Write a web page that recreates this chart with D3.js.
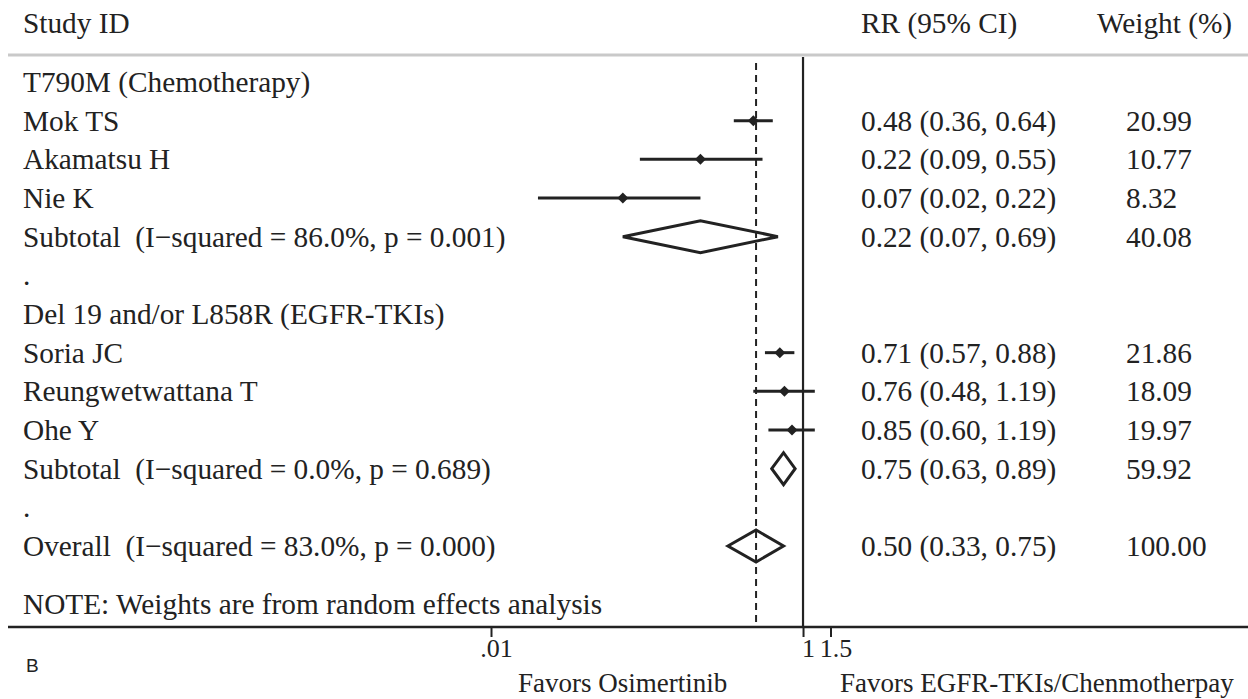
<!DOCTYPE html>
<html>
<head>
<meta charset="utf-8">
<script src="https://cdn.jsdelivr.net/npm/d3@7"></script>
<style>
  body { margin: 0; background: #fff; }
  svg text { font-family: "Liberation Serif", "Times New Roman", serif; fill: #222; white-space: pre; }
</style>
</head>
<body>
<svg id="chart"></svg>
<script>
// rows of the forest plot, top to bottom
const rowLabels = [
  "T790M (Chemotherapy)",
  "Mok TS",
  "Akamatsu H",
  "Nie K",
  "Subtotal  (I\u2212squared = 86.0%, p = 0.001)",
  ".",
  "Del 19 and/or L858R (EGFR-TKIs)",
  "Soria JC",
  "Reungwetwattana T",
  "Ohe Y",
  "Subtotal  (I\u2212squared = 0.0%, p = 0.689)",
  ".",
  "Overall  (I\u2212squared = 83.0%, p = 0.000)"
];
const rowType = ["head", "study", "study", "study", "pooled", "blank",
  "head", "study", "study", "study", "pooled", "blank", "pooled"];
const rr = [null, 0.48, 0.22, 0.07, 0.22, null, null, 0.71, 0.76, 0.85, 0.75, null, 0.50];
const lower = [null, 0.36, 0.09, 0.02, 0.07, null, null, 0.57, 0.48, 0.60, 0.63, null, 0.33];
const upper = [null, 0.64, 0.55, 0.22, 0.69, null, null, 0.88, 1.19, 1.19, 0.89, null, 0.75];
const weights = [null, 20.99, 10.77, 8.32, 40.08, null, null, 21.86, 18.09, 19.97, 59.92, null, 100.00];

const tickValues = [0.01, 1, 1.5];
const tickLabels = [".01", "1", "1.5"];
const overallRR = 0.50;
const nullValue = 1;

const width = 1248;
const height = 699;
const fs = 29.3;

const svg = d3.select("#chart").attr("width", width).attr("height", height);

const x = d3.scaleLog().domain([0.01, 1.5]).range([491, 830.5]);
// row index -> centre line of the row
const y = d3.scaleLinear().domain([0, 12]).range([82, 546]);
const noteRow = 13.5;
const axisY = 627;
const f2 = d3.format(".2f");

const rows = rowLabels.map((label, i) => ({
  i, label, type: rowType[i], rr: rr[i], lo: lower[i], hi: upper[i], w: weights[i]
}));

// header
svg.append("text").attr("x", 23).attr("y", 33).attr("font-size", fs).text("Study ID");
svg.append("text").attr("x", 861).attr("y", 33).attr("font-size", fs).text("RR (95% CI)");
svg.append("text").attr("x", 1097).attr("y", 33).attr("font-size", fs).text("Weight (%)");
svg.append("line")
  .attr("x1", 8).attr("x2", width).attr("y1", 55).attr("y2", 55)
  .attr("stroke", "#c9c9c9").attr("stroke-width", 3);

// reference lines
svg.append("line")
  .attr("x1", x(nullValue)).attr("x2", x(nullValue))
  .attr("y1", 57).attr("y2", axisY)
  .attr("stroke", "#222").attr("stroke-width", 2.2);

// row labels
svg.selectAll(".rowLabel")
  .data(rows)
  .enter()
  .append("text")
  .attr("class", "rowLabel")
  .attr("x", 23)
  .attr("y", (d) => y(d.i) + 10)
  .attr("font-size", fs)
  .text((d) => d.label);

const withCI = rows.filter((d) => d.rr != null);

// estimate text and weights
svg.selectAll(".rrText")
  .data(withCI)
  .enter()
  .append("text")
  .attr("class", "rrText")
  .attr("x", 861)
  .attr("y", (d) => y(d.i) + 10)
  .attr("font-size", fs)
  .text((d) => `${f2(d.rr)} (${f2(d.lo)}, ${f2(d.hi)})`);

svg.selectAll(".wText")
  .data(withCI)
  .enter()
  .append("text")
  .attr("class", "wText")
  .attr("x", 1126)
  .attr("y", (d) => y(d.i) + 10)
  .attr("font-size", fs)
  .text((d) => f2(d.w));

// study CIs and point estimates
const studyRows = withCI.filter((d) => d.type == "study");
svg.selectAll(".ci")
  .data(studyRows)
  .enter()
  .append("line")
  .attr("class", "ci")
  .attr("x1", (d) => x(d.lo))
  .attr("x2", (d) => x(d.hi))
  .attr("y1", (d) => y(d.i))
  .attr("y2", (d) => y(d.i))
  .attr("stroke", "#222")
  .attr("stroke-width", 3);

svg.selectAll(".pt")
  .data(studyRows)
  .enter()
  .append("path")
  .attr("class", "pt")
  .attr("d", (d) => {
    let cx = x(d.rr), cy = y(d.i), r = 5.5;
    return `M${cx},${cy - r}L${cx + r},${cy}L${cx},${cy + r}L${cx - r},${cy}Z`;
  })
  .attr("fill", "#222");

// pooled diamonds
svg.selectAll(".pooled")
  .data(withCI.filter((d) => d.type == "pooled"))
  .enter()
  .append("path")
  .attr("class", "pooled")
  .attr("d", (d) => {
    let cy = y(d.i), h = 16;
    return `M${x(d.lo)},${cy}L${x(d.rr)},${cy - h}L${x(d.hi)},${cy}L${x(d.rr)},${cy + h}Z`;
  })
  .attr("fill", "#fff")
  .attr("stroke", "#222")
  .attr("stroke-width", 3)
  .attr("stroke-linejoin", "miter");

// dashed line for the overall estimate, on top of the diamond fills
svg.append("line")
  .attr("x1", x(overallRR)).attr("x2", x(overallRR))
  .attr("y1", 63).attr("y2", axisY)
  .attr("stroke", "#222").attr("stroke-width", 2)
  .attr("stroke-dasharray", "7,5");

svg.append("text")
  .attr("x", 23)
  .attr("y", y(noteRow) + 10)
  .attr("font-size", fs)
  .text("NOTE: Weights are from random effects analysis");

// x axis
svg.append("line")
  .attr("x1", 8).attr("x2", width).attr("y1", axisY).attr("y2", axisY)
  .attr("stroke", "#222").attr("stroke-width", 2.5);

const xAxis = d3.axisBottom(x)
  .tickValues(tickValues)
  .tickFormat((d, i) => tickLabels[i])
  .tickSize(10);

const gx = svg.append("g")
  .attr("transform", "translate(0," + axisY + ")")
  .call(xAxis);
gx.select(".domain").remove();
gx.selectAll(".tick line").attr("stroke", "#222").attr("stroke-width", 2);
gx.selectAll(".tick text")
  .attr("font-family", "Liberation Serif, serif")
  .attr("font-size", 26)
  .attr("fill", "#222")
  .attr("y", 12)
  .attr("dx", 5);

svg.append("text")
  .attr("x", 518).attr("y", 692)
  .attr("font-size", 27)
  .text("Favors Osimertinib");
svg.append("text")
  .attr("x", 840).attr("y", 692)
  .attr("font-size", 27)
  .text("Favors EGFR-TKIs/Chenmotherpay");

svg.append("text")
  .attr("x", 26).attr("y", 672)
  .attr("font-size", 19)
  .style("font-family", "Liberation Sans, Arial, sans-serif")
  .text("B");
</script>
</body>
</html>
